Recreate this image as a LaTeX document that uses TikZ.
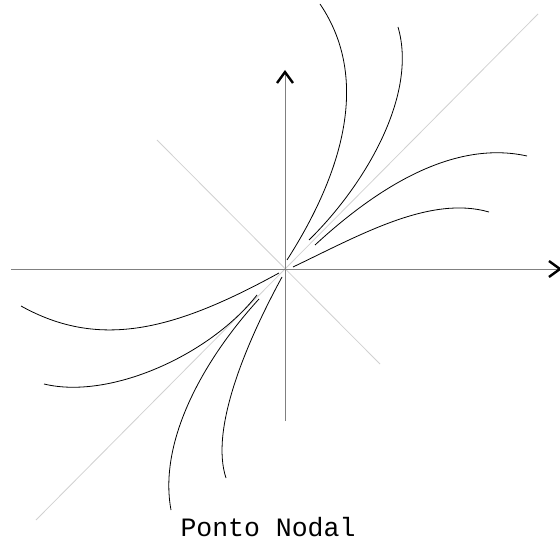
\documentclass[tikz,border=0pt]{standalone}
\usepackage{fontspec}
\newfontfamily\monofont{Liberation Mono}
\usetikzlibrary{arrows.meta}
\tikzset{
  axisline/.style={draw=black!50, line width=0.9pt},
  axtip/.style={-{Straight Barb[length=11pt,width=16pt,line width=2.4pt,color=black]}},
  diagline/.style={draw=black!18, line width=0.8pt},
  traj/.style={draw=black, line width=0.8pt},
  lbl/.style={font=\monofont\fontsize{26.5}{30}\selectfont, inner sep=0pt, anchor=base}
}
\begin{document}
\begin{tikzpicture}[x=1pt,y=-1pt]
\useasboundingbox (0,0) rectangle (560,540);
\clip (0,0) rectangle (560,540);
\coordinate (O) at (285,269);
\coordinate (xl) at (11,269);
\coordinate (xr) at (562,269);
\coordinate (yb) at (285,421);
\coordinate (yt) at (285,70);
\coordinate (d1a) at (36,520);
\coordinate (d1b) at (538,14);
\coordinate (d2a) at (157,140);
\coordinate (d2b) at (380,364);
% diagonals
\draw[diagline] (d1a) -- (d1b);
\draw[diagline] (d2a) -- (d2b);
% axes
\draw[axisline, axtip] (xl) -- (xr);
\draw[axisline, axtip] (yb) -- (yt);
% upper-right trajectories
\draw[traj] (287,260) .. controls (335,185) and (375,85) .. (320,4);
\draw[traj] (309,240) .. controls (365,185) and (418,95) .. (398,27);
\draw[traj] (315,245) .. controls (380,185) and (455,140) .. (527,156);
\draw[traj] (293,267) .. controls (360,235) and (430,195) .. (489,212);
% lower-left trajectories
\draw[traj] (279,273) .. controls (175,330) and (100,350) .. (21,306);
\draw[traj] (257,295) .. controls (210,355) and (110,400) .. (44,384);
\draw[traj] (259,299) .. controls (205,358) and (158,440) .. (171,510);
\draw[traj] (282,277) .. controls (245,345) and (210,430) .. (226,478);
% label
\node[lbl] (title) at (268,536) {Ponto Nodal};
\end{tikzpicture}
\end{document}
